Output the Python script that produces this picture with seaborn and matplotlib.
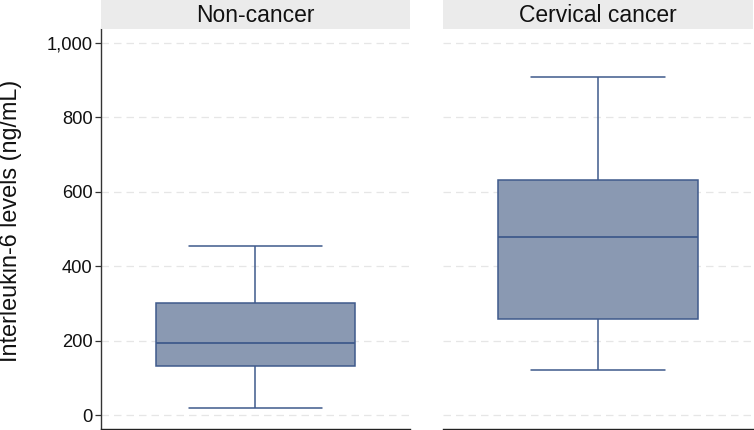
import numpy as np
import pandas as pd
import matplotlib
matplotlib.use("Agg")
import matplotlib.pyplot as plt
import seaborn as sns
from matplotlib.patches import Rectangle

sns.set_style("white")
plt.rcParams['font.family'] = ['Liberation Sans', 'DejaVu Sans']

groups = ["Non-cancer", "Cervical cancer"]
# five-number summaries: min, Q1, median, Q3, max
non_cancer = [19.7, 132.5, 192.5, 300.8, 454.8]
cervical = [121.0, 257.0, 477.0, 630.0, 908.7]
yticks = [0, 200, 400, 600, 800, 1000]
ytick_labels = ["0", "200", "400", "600", "800", "1,000"]
ylabel = "Interleukin-6 levels (ng/mL)"

df = pd.DataFrame({
    "group": [groups[0]] * len(non_cancer) + [groups[1]] * len(cervical),
    "value": non_cancer + cervical,
})

W, H = 754, 430
fig = plt.figure(figsize=(W / 100, H / 100), dpi=100)

panels = [(101, 410), (443, 753)]
top_px, bottom_px, header_px = 29, 429, 29
fill = "#8a99b2"
edge = "#3f5a8c"

for i, (g, (x0, x1)) in enumerate(zip(groups, panels)):
    ax = fig.add_axes([x0 / W, (H - bottom_px) / H, (x1 - x0) / W, (bottom_px - top_px) / H])
    sub = df[df["group"] == g]
    sns.boxplot(data=sub, x="group", y="value", ax=ax, width=0.645,
                color=fill, saturation=1, linewidth=1.1, linecolor=edge,
                whis=1.5, showfliers=False, capwidths=0.43,
                boxprops=dict(facecolor=fill, edgecolor=edge),
                medianprops=dict(color=edge, linewidth=1.3))
    ax.set_xlim(-0.5, 0.5)
    ax.set_ylim(-37.6, 1036.8)
    ax.set_yticks(yticks)
    ax.yaxis.grid(True, linestyle=(0, (6, 4)), color="#e6e6e6", linewidth=0.9)
    ax.set_axisbelow(True)
    ax.set_xticks([])
    ax.set_xlabel("")
    for s in ["top", "right"]:
        ax.spines[s].set_visible(False)
    ax.spines["bottom"].set_color("#222222")
    ax.spines["bottom"].set_linewidth(1.0)
    if i == 0:
        ax.set_yticklabels(ytick_labels, fontsize=13.2, color="#111111")
        ax.tick_params(axis="y", length=4, width=0.9, color="#333333", pad=2, left=True)
        ax.spines["left"].set_color("#333333")
        ax.spines["left"].set_linewidth(1.0)
        ax.set_ylabel(ylabel, fontsize=16.8, color="#111111")
        ax.yaxis.set_label_coords(-0.256, 0.52)
    else:
        ax.set_yticklabels([])
        ax.tick_params(axis="y", length=0)
        ax.spines["left"].set_visible(False)
        ax.set_ylabel("")
    # header strip
    fig.patches.append(Rectangle((x0 / W, (H - header_px) / H), (x1 - x0) / W, header_px / H,
                                 transform=fig.transFigure, facecolor="#ebebeb",
                                 edgecolor="none", zorder=0))
    fig.text((x0 + x1) / 2 / W, (H - header_px / 2 - 1) / H, g, ha="center", va="center",
             fontsize=16.5, color="#111111")

fig.savefig("out.png", dpi=100)
